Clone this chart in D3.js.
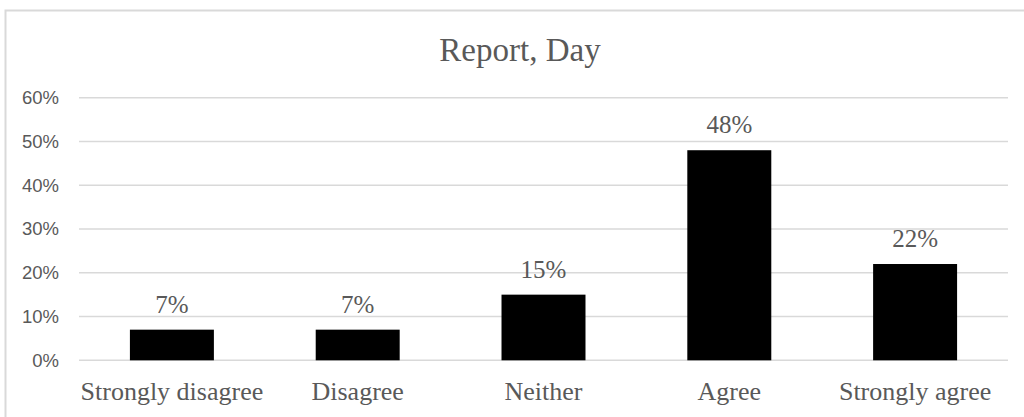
<!DOCTYPE html>
<html lang="en">
  <head>
    <meta charset="utf-8">
    <title>Report, Day</title>
    <script src="https://d3js.org/d3.v7.min.js"></script>
    <style>
      body { margin: 0; background: #fff; }
    </style>
  </head>
  <body>
    <script type="text/javascript">
      const categories = ["Strongly disagree", "Disagree", "Neither", "Agree", "Strongly agree"];
      const values = [0.07, 0.07, 0.15, 0.48, 0.22];
      const yTicks = [0, 0.1, 0.2, 0.3, 0.4, 0.5, 0.6];
      const title = "Report, Day";

      const svgWidth = 1024;
      const svgHeight = 417;
      const margin = {top: 97.7, right: 16, bottom: 56.7, left: 79};

      const serif = "'Liberation Serif', 'Times New Roman', serif";
      const sans = "'Liberation Sans', Arial, sans-serif";
      const textColor = "#595959";
      const gridColor = "#d9d9d9";

      var svg = d3.select("body")
        .append("svg")
        .attr("width", svgWidth)
        .attr("height", svgHeight);

      // chart area border (cropped at right and bottom)
      svg.append("rect")
        .attr("x", 5.5)
        .attr("y", 10.5)
        .attr("width", 1030)
        .attr("height", 420)
        .attr("fill", "white")
        .attr("stroke", gridColor)
        .attr("stroke-width", 2);

      var xScale = d3.scaleBand()
        .domain(categories)
        .range([margin.left, svgWidth - margin.right])
        .paddingInner(0.548)
        .paddingOuter(0.274);

      var yScale = d3.scaleLinear()
        .domain([0, 0.6])
        .range([svgHeight - margin.bottom, margin.top]);

      svg.append("text")
        .attr("x", 520)
        .attr("y", 61)
        .attr("text-anchor", "middle")
        .attr("font-family", serif)
        .attr("font-size", "33px")
        .attr("fill", textColor)
        .text(title);

      svg.append("g")
        .attr("class", "grid")
        .selectAll("line")
        .data(yTicks)
        .enter()
        .append("line")
        .attr("x1", margin.left)
        .attr("x2", svgWidth - margin.right)
        .attr("y1", d => yScale(d))
        .attr("y2", d => yScale(d))
        .attr("stroke", gridColor)
        .attr("stroke-width", 1.5);

      var yAxis = svg.append("g")
        .attr("class", "y-axis")
        .attr("transform", `translate(${margin.left},0)`)
        .call(d3.axisLeft(yScale).tickValues(yTicks).tickFormat(d3.format(".0%")).tickSize(0).tickPadding(20));
      yAxis.select(".domain").remove();
      yAxis.selectAll("text")
        .attr("font-family", sans)
        .attr("font-size", "18.5px")
        .attr("fill", textColor);

      var xAxis = svg.append("g")
        .attr("class", "x-axis")
        .attr("transform", `translate(0,${svgHeight - margin.bottom})`)
        .call(d3.axisBottom(xScale).tickSize(0).tickPadding(0));
      xAxis.select(".domain").remove();
      xAxis.selectAll("text")
        .attr("y", 40)
        .attr("dy", null)
        .attr("font-family", serif)
        .attr("font-size", "26px")
        .attr("fill", textColor);

      svg.append("g")
        .attr("class", "bars")
        .selectAll("rect")
        .data(values)
        .enter()
        .append("rect")
        .attr("x", (d, i) => xScale(categories[i]))
        .attr("y", d => yScale(d))
        .attr("width", xScale.bandwidth())
        .attr("height", d => yScale(0) - yScale(d))
        .attr("fill", "black");

      svg.append("g")
        .attr("class", "labels")
        .selectAll("text")
        .data(values)
        .enter()
        .append("text")
        .attr("x", (d, i) => xScale(categories[i]) + xScale.bandwidth() / 2)
        .attr("y", d => yScale(d) - 17)
        .attr("text-anchor", "middle")
        .attr("font-family", serif)
        .attr("font-size", "25px")
        .attr("fill", textColor)
        .text(d => d3.format(".0%")(d));
    </script>
  </body>
</html>
